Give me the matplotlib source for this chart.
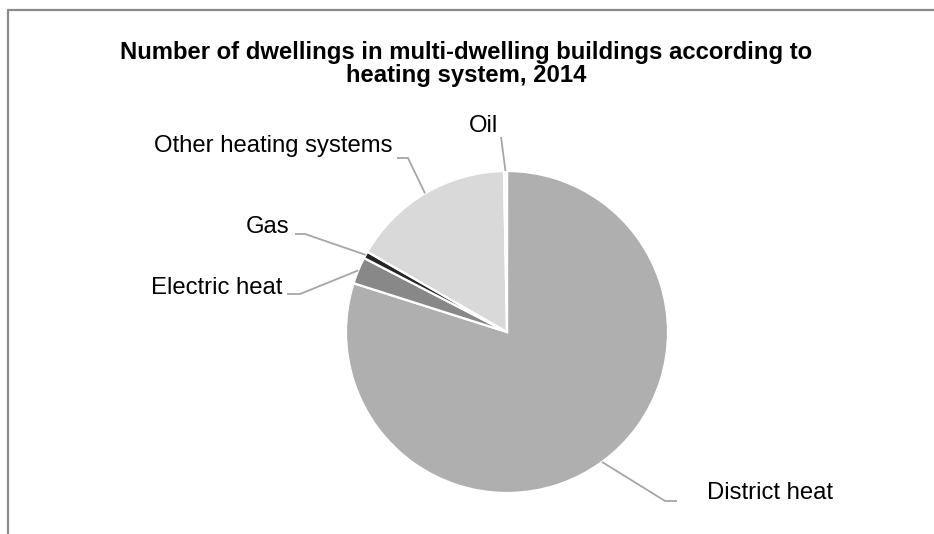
import numpy as np
import matplotlib.pyplot as plt
from matplotlib.lines import Line2D

plt.rcParams['font.family'] = ['Liberation Sans', 'DejaVu Sans']

labels = ["District heat", "Electric heat", "Gas", "Other heating systems", "Oil"]
shares = [79.9, 2.7, 0.7, 16.4, 0.3]
colors = ["#afafaf", "#888888", "#252525", "#d9d9d9", "#f2f2f2"]

title = "Number of dwellings in multi-dwelling buildings according to\nheating system, 2014"

W, H = 934, 534
CX, CY, R = 507, 332, 161

# label layout in pixels (y measured from the top): elbow, line end, text anchor, alignment
label_layout = {
    "District heat": ((665, 501), (677, 501), (707, 493), "left"),
    "Electric heat": ((300, 294), (287, 294), (282, 288), "right"),
    "Gas": ((305, 234), (295, 234), (289, 227), "right"),
    "Other heating systems": ((408, 158), (397, 158), (392, 146), "right"),
    "Oil": ((501, 137), (501, 137), (483, 126), "center"),
}


def main():
    fig = plt.figure(figsize=(W / 100, H / 100), dpi=100)
    ax = fig.add_axes([0, 0, 1, 1])

    wedges, _ = ax.pie(shares, colors=colors, center=(CX, H - CY), radius=R,
                       startangle=90, counterclock=False,
                       wedgeprops=dict(edgecolor="white", linewidth=1.6))
    ax.set_xlim(0, W)
    ax.set_ylim(0, H)
    ax.set_aspect("equal")
    ax.axis("off")

    for w, name in zip(wedges, labels):
        ang = np.deg2rad((w.theta1 + w.theta2) / 2)
        x0 = CX + R * np.cos(ang)
        y0 = H - CY + R * np.sin(ang)
        elbow, end, txt, ha = label_layout[name]
        ax.plot([x0, elbow[0], end[0]], [y0, H - elbow[1], H - end[1]],
                color="#a6a6a6", lw=1.3, solid_capstyle="butt")
        ax.text(txt[0], H - txt[1], name, ha=ha, va="center", fontsize=17.2,
                color="#000000")

    # chart area border (left and top edges)
    ax.add_line(Line2D([8, 8, W], [0, H - 10, H - 10], color="#8a8a8a", lw=1.6))

    ax.text(W / 2 - 1, H - 64, title, ha="center", va="center", fontsize=17.2,
            fontweight="bold", linespacing=1.05)

    fig.savefig("out.png", dpi=100)


if __name__ == "__main__":
    main()
